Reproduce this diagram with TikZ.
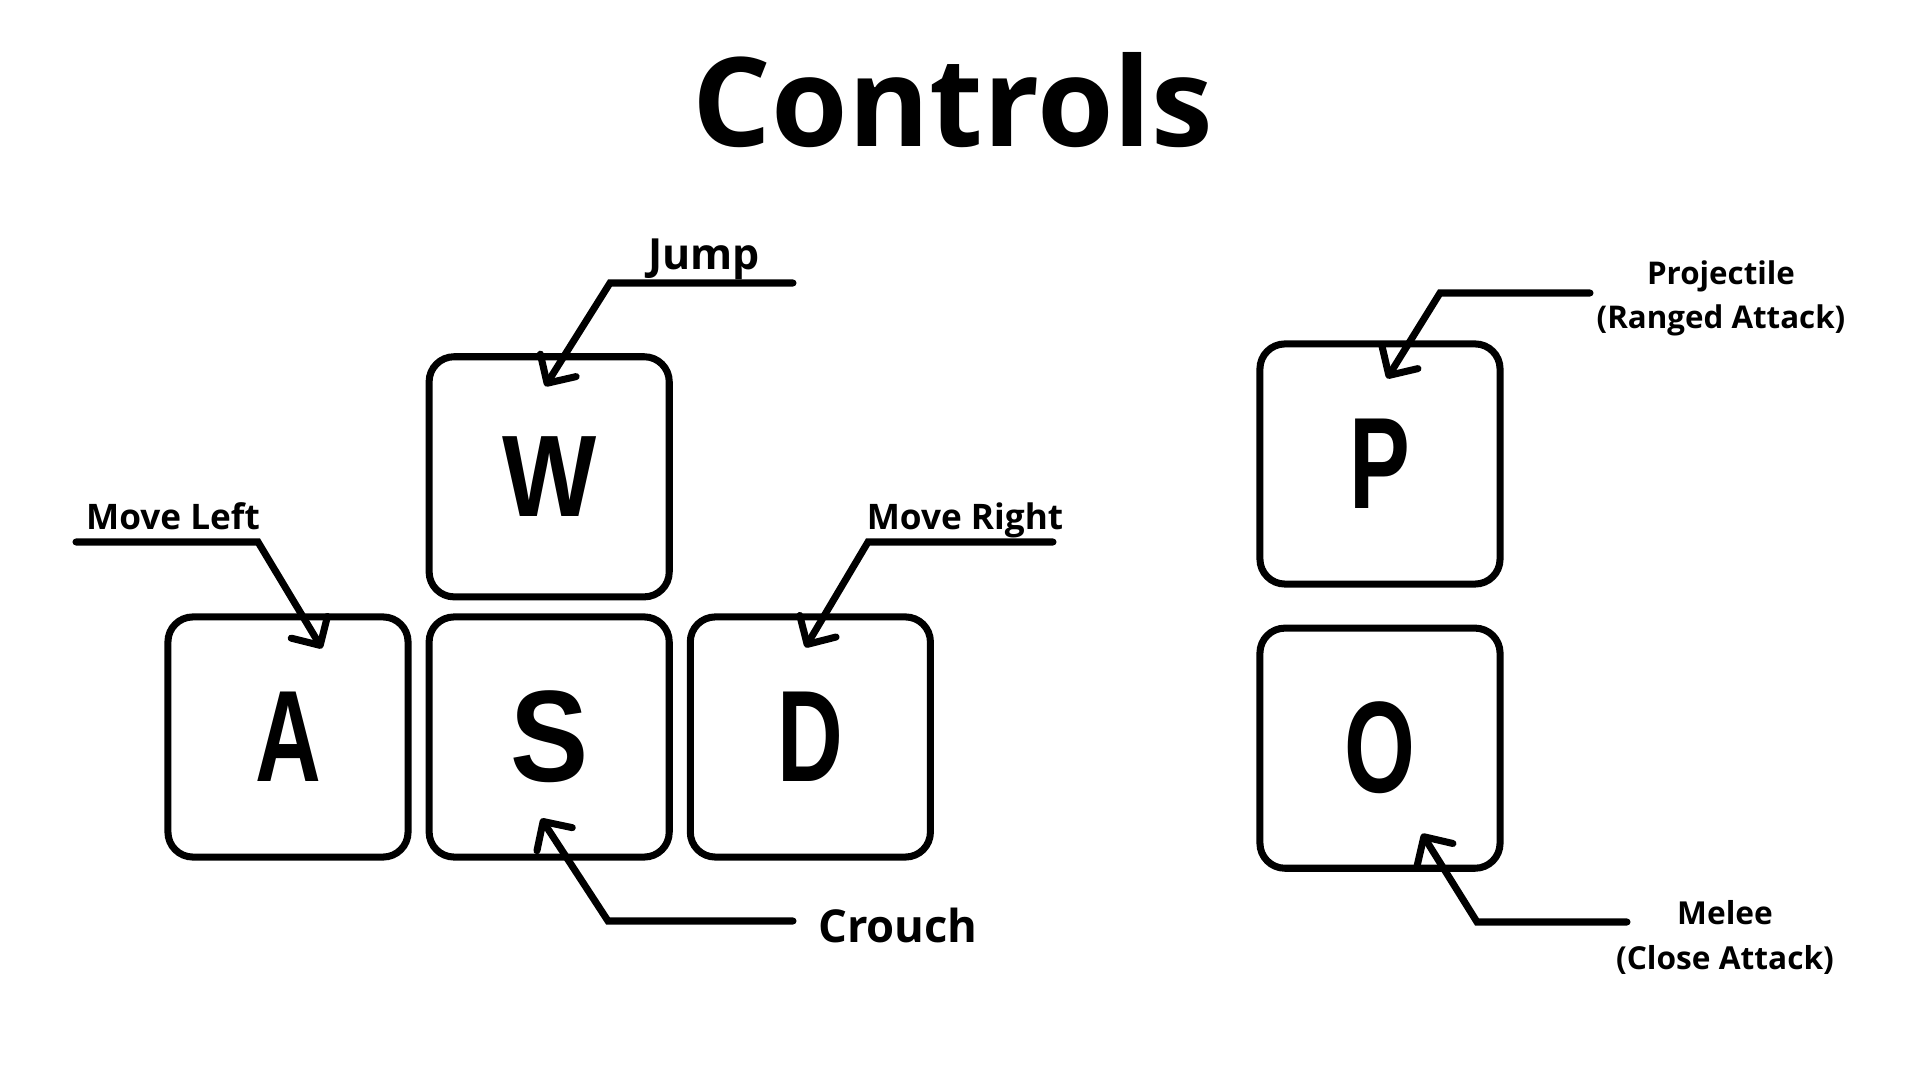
\documentclass[tikz,border=0pt]{standalone}
\usepackage{graphicx}
\usepackage{fontspec}
\setmainfont{Open Sans}
\newfontfamily\capfont{Liberation Sans}
\usetikzlibrary{positioning,arrows.meta}
\newcommand\keycap[2][0.7]{\scalebox{#1}[1]{#2}}
\tikzset{
  key/.style={draw, line width=2pt, rounded corners=0.25cm, minimum width=2.4cm,
    minimum height=2.4cm, inner sep=0pt, font=\capfont\bfseries\fontsize{37}{37}\selectfont},
  tag/.style={font=\bfseries\fontsize{10}{12}\selectfont},
  heading/.style={font=\bfseries\fontsize{35.2}{40}\selectfont},
  line/.style={draw, line width=2pt, line cap=round,
    -{Straight Barb[round, length=6pt, width=12pt]}}
}

\begin{document}
\begin{tikzpicture}[x=0.01cm, y=-0.01cm]
    \useasboundingbox (0,0) rectangle (1920,1080);
    \node[heading, anchor=base] (title) at (953,147) {Controls};

    % movement keys
    \node[key] (a) at (288,737) {\keycap{A}};
    \node[key, right=0.14cm of a] (s) {\keycap[0.9]{S}};
    \node[key, right=0.14cm of s] (d) {\keycap{D}};
    \node[key, above=0.13cm of s, font=\capfont\bfseries\fontsize{33}{33}\selectfont] (w) {\keycap[0.86]{W}};

    % attack keys
    \node[key] (p) at (1380,464) {\keycap{P}};
    \node[key, below=0.37cm of p] (o) {\keycap{O}};

    \node[tag, anchor=base, font=\bfseries\fontsize{12.2}{14}\selectfont] (jump) at (704,270) {Jump};
    \node[tag, anchor=base] (left) at (173,530) {Move Left};
    \node[tag, anchor=base] (right) at (965,530) {Move Right};
    \node[tag, anchor=base, font=\bfseries\fontsize{12.9}{15}\selectfont] (crouch) at (898,943) {Crouch};
    \node[tag, align=center, font=\bfseries\fontsize{8.9}{12.5}\selectfont] (proj) at (1721,298) {Projectile\\(Ranged Attack)};
    \node[tag, align=center, font=\bfseries\fontsize{9}{12.8}\selectfont] (melee) at (1725,937) {Melee\\(Close Attack)};

    \coordinate (jumpend) at (793,283);
    \coordinate (jumpbend) at (610,283);
    \coordinate (leftend) at (76,542);
    \coordinate (leftbend) at (258,542);
    \coordinate (rightend) at (1053,542);
    \coordinate (rightbend) at (868,542);
    \coordinate (crouchend) at (793,921);
    \coordinate (crouchbend) at (608,921);
    \coordinate (projend) at (1590,293);
    \coordinate (projbend) at (1440,293);
    \coordinate (meleeend) at (1627,922);
    \coordinate (meleebend) at (1477,922);

    \path[line] (jumpend) -- (jumpbend) -- ([shift={(-4,33)}]w.north);
    \path[line] (leftend) -- (leftbend) -- ([shift={(34,35)}]a.north);
    \path[line] (rightend) -- (rightbend) -- ([shift={(-5,34)}]d.north);
    \path[line] (crouchend) -- (crouchbend) -- ([shift={(-8,-42)}]s.south);
    \path[line] (projend) -- (projbend) -- ([shift={(7,38)}]p.north);
    \path[line] (meleeend) -- (meleebend) -- ([shift={(42,-38)}]o.south);
\end{tikzpicture}
\end{document}
